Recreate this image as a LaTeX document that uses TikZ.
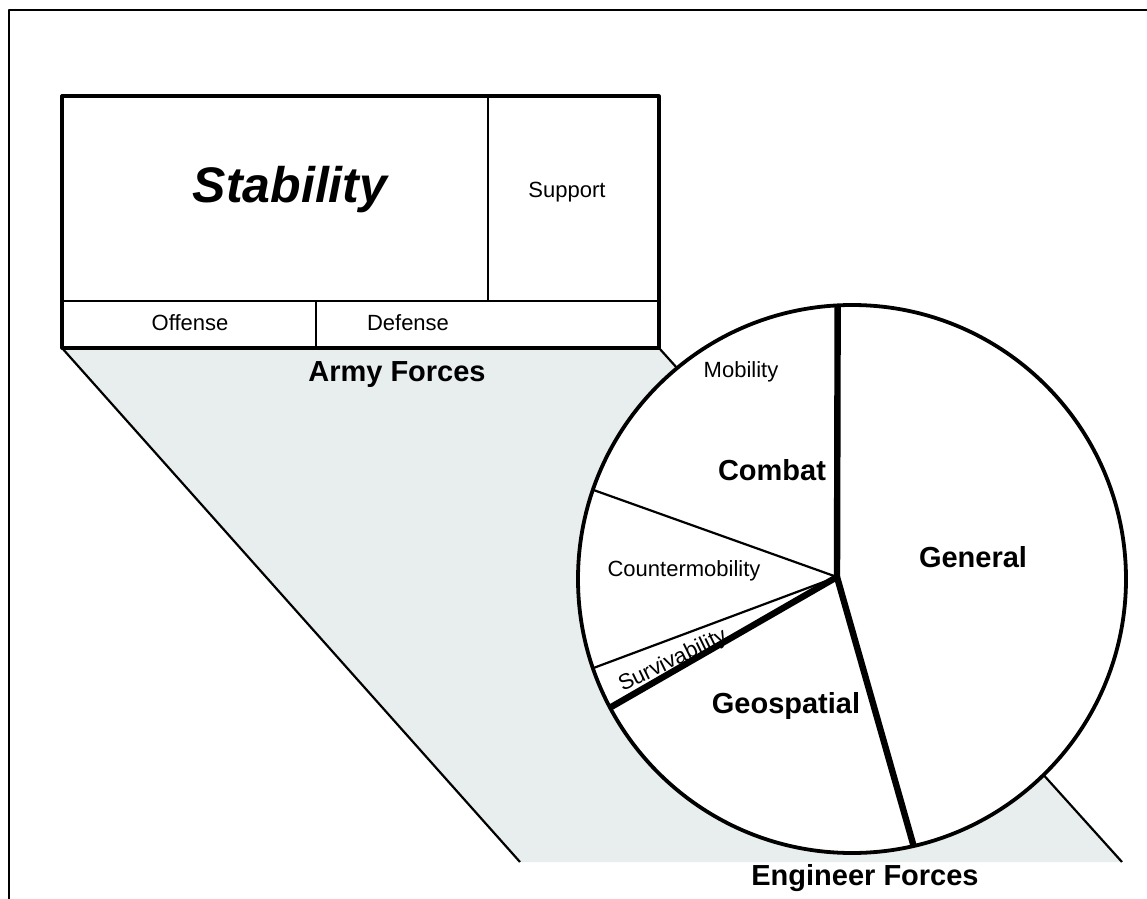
\documentclass[tikz,border=0pt]{standalone}
\usepackage{fontspec}
\setmainfont{Liberation Sans}
\definecolor{apron}{RGB}{232,238,238}
\begin{document}
\begin{tikzpicture}[x=0.5pt,y=-0.5pt,line join=round,
    cell/.style={draw,line width=1.2pt,inner sep=0pt},
    small/.style={font=\fontsize{11}{13}\selectfont},
    big/.style={font=\fontsize{14.5}{17}\selectfont\bfseries},
    thin/.style={line width=1.1pt},
    heavy/.style={line width=3.2pt}]
  \useasboundingbox (0,0) rectangle (1147,899);
  \draw[line width=1.3pt] (1147,10) -- (9,10) -- (9,899);
  \coordinate (A1) at (62,348);
  \coordinate (A2) at (659,348);
  \coordinate (E2) at (1122,862);
  \coordinate (E1) at (520,862);
  \fill[apron] (A1) -- (A2) -- (E2) -- (E1) -- cycle;
  \draw[thin] (A1) -- (E1);
  \draw[thin] (A2) -- (E2);
  \node[cell,minimum width=213pt,minimum height=102.5pt] (stabcell) at (275,198.5) {};
  \node[cell,minimum width=85.5pt,minimum height=102.5pt] (suppcell) at (573.5,198.5) {};
  \node[cell,minimum width=127pt,minimum height=23.5pt] (offcell) at (189,324.5) {};
  \node[cell,minimum width=171.5pt,minimum height=23.5pt] (defcell) at (487.5,324.5) {};
  \draw[line width=1.6pt] (A1) rectangle (659,96);
  \node[font=\fontsize{25}{30}\selectfont\bfseries\itshape] (stab) at (290,190) {Stability};
  \node[small] (supp) at (567,192) {Support};
  \node[small] (off) at (190,323) {Offense};
  \node[small] (def) at (408,323) {Defense};
  \node[big] (army) at (397,375) {Army Forces};
  \node[circle,draw,line width=1.9pt,fill=white,minimum size=274pt,
        inner sep=0pt,outer sep=0pt] (pie) at (852,579) {};
  \coordinate (hub) at (837,577);
  \draw[heavy] (hub) -- (pie.93.1);
  \draw[thin] (hub) -- (pie.161.1);
  \draw[thin] (hub) -- (pie.199);
  \draw[heavy] (hub) -- (pie.208.4);
  \draw[heavy] (hub) -- (pie.283.2);
  \node[small] (mob) at (741,372) {Mobility};
  \node[big] (combat) at (772,470) {Combat};
  \node[small] (cmob) at (684,571) {Countermobility};
  \node[small,rotate=26] (surv) at (673,661) {Survivability};
  \node[big] (geo) at (786,706) {Geospatial};
  \node[big] (gen) at (973,557) {General};
  \node[big] (eng) at (865,878) {Engineer Forces};
\end{tikzpicture}
\end{document}
